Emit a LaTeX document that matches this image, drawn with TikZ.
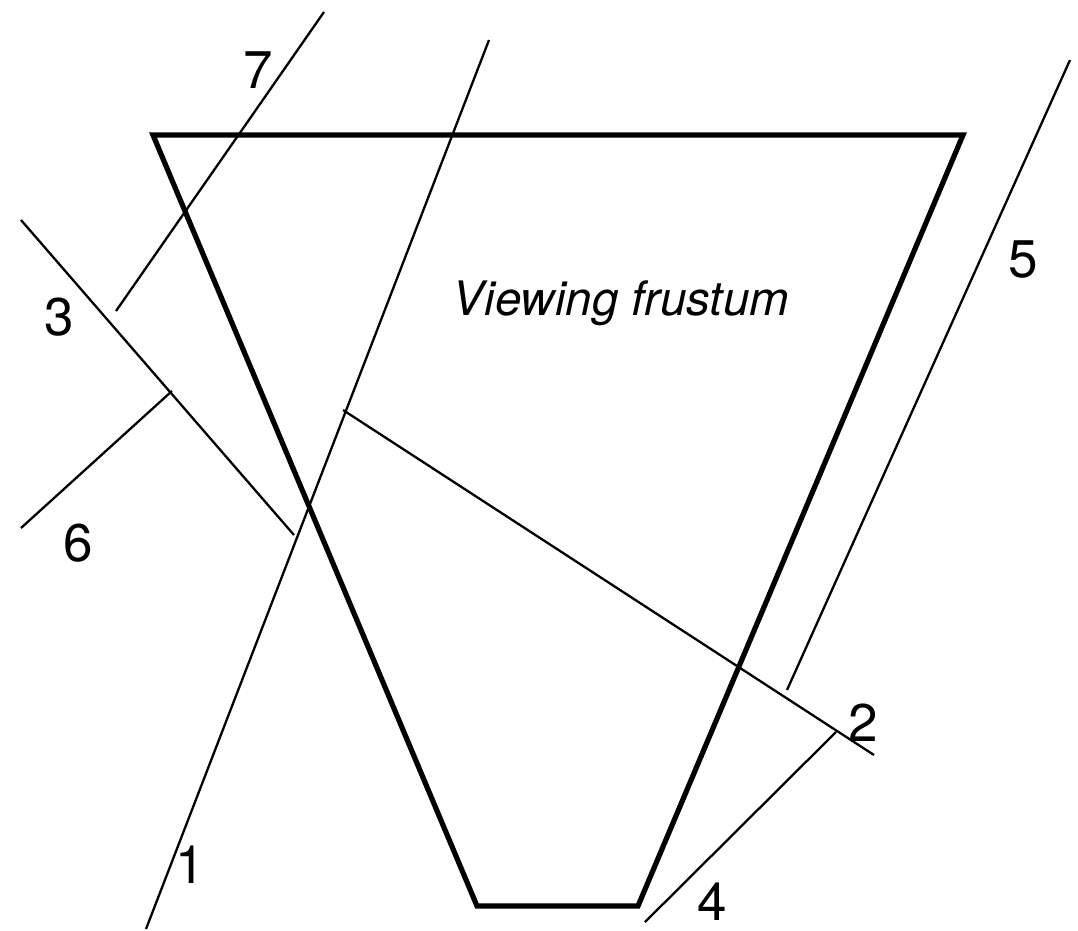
\documentclass[tikz,border=0pt]{standalone}
\usepackage{fontspec}
\setmainfont{TeX Gyre Heros}
\begin{document}
\begin{tikzpicture}[x=1pt,y=-1pt,
  frustum/.style={line width=5.2pt,line join=miter},
  ray/.style={line width=2.3pt},
  lbl/.style={font=\fontsize{53}{53}\selectfont,inner sep=0pt,anchor=base}]
\useasboundingbox (0,0) rectangle (1078,930);
% frustum
\coordinate (tl) at (153,135);
\coordinate (tr) at (963,135);
\coordinate (br) at (638,906);
\coordinate (bl) at (477,906);
\draw[frustum] (tl) -- (tr) -- (br) -- (bl) -- cycle;
\node[font=\fontsize{47.5}{47.5}\selectfont\itshape,inner sep=0pt,anchor=base] (title) at (621,315) {Viewing frustum};
% rays
\coordinate (a1) at (146,929); \coordinate (b1) at (489,40);
\coordinate (a7) at (116,311); \coordinate (b7) at (324,12);
\coordinate (a3) at (21,220);  \coordinate (b3) at (294,535);
\coordinate (a6) at (21,528);  \coordinate (b6) at (172,391);
\coordinate (a2) at (343,410); \coordinate (b2) at (874,755);
\coordinate (a4) at (645,922); \coordinate (b4) at (836,732);
\coordinate (a5) at (787,690); \coordinate (b5) at (1070,60);
\draw[ray] (a1) -- (b1);
\draw[ray] (a7) -- (b7);
\draw[ray] (a3) -- (b3);
\draw[ray] (a6) -- (b6);
\draw[ray] (a2) -- (b2);
\draw[ray] (a4) -- (b4);
\draw[ray] (a5) -- (b5);
% labels
\node[lbl] (l1) at (190,883) {1};
\node[lbl] (l2) at (863,741) {2};
\node[lbl] (l3) at (59,335) {3};
\node[lbl] (l4) at (712,920) {4};
\node[lbl] (l5) at (1023,277) {5};
\node[lbl] (l6) at (78,561) {6};
\node[lbl] (l7) at (258,88) {7};
\end{tikzpicture}
\end{document}
